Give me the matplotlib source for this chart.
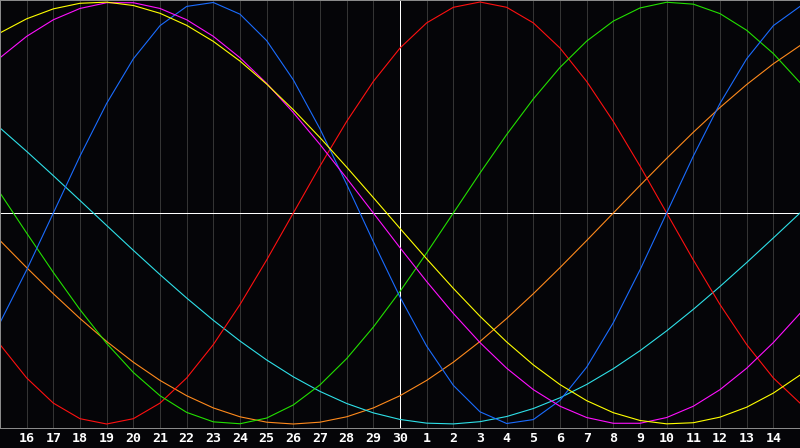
"""biorhythm style chart, one month window centred on day 30"""
import matplotlib
matplotlib.use('Agg')
import matplotlib.pyplot as plt

"""days shown along the bottom (index 0 = left edge, 30 = right edge)"""
day_labels = ['15', '16', '17', '18', '19', '20', '21', '22', '23', '24', '25', '26', '27', '28', '29', '30',
              '1', '2', '3', '4', '5', '6', '7', '8', '9', '10', '11', '12', '13', '14', '15']
day_index = list(range(len(day_labels)))

"""curve values read per day"""
red_vals = [-0.6235, -0.7818, -0.9010, -0.9749, -1.0, -0.9749, -0.9010, -0.7818, -0.6235, -0.4339, -0.2225,
            0.0, 0.2225, 0.4339, 0.6235, 0.7818, 0.9010, 0.9749, 1.0, 0.9749, 0.9010, 0.7818, 0.6235,
            0.4339, 0.2225, 0.0, -0.2225, -0.4339, -0.6235, -0.7818, -0.9010]
green_vals = [0.0951, -0.0951, -0.2817, -0.4582, -0.6182, -0.7557, -0.8660, -0.9450, -0.9898, -0.9989, -0.9718,
              -0.9096, -0.8146, -0.6901, -0.5406, -0.3717, -0.1893, 0.0, 0.1893, 0.3717, 0.5406, 0.6901,
              0.8146, 0.9096, 0.9718, 0.9989, 0.9898, 0.9450, 0.8660, 0.7557, 0.6182]
blue_vals = [-0.5196, -0.2698, 0.0, 0.2698, 0.5196, 0.7308, 0.8879, 0.9791, 0.9977, 0.9423, 0.8170,
             0.6310, 0.3984, 0.1362, -0.1362, -0.3984, -0.6310, -0.8170, -0.9423, -0.9977, -0.9791, -0.8879,
             -0.7308, -0.5196, -0.2698, 0.0, 0.2698, 0.5196, 0.7308, 0.8879, 0.9791]
yellow_vals = [0.8536, 0.9204, 0.9675, 0.9940, 0.9993, 0.9834, 0.9465, 0.8894, 0.8133, 0.7199, 0.6111,
               0.4894, 0.3572, 0.2174, 0.0730, -0.0730, -0.2174, -0.3572, -0.4894, -0.6111, -0.7199, -0.8133,
               -0.8894, -0.9465, -0.9834, -0.9993, -0.9940, -0.9675, -0.9204, -0.8536, -0.7684]
magenta_vals = [0.7357, 0.8372, 0.9158, 0.9694, 0.9966, 0.9966, 0.9694, 0.9158, 0.8372, 0.7357, 0.6142,
                0.4759, 0.3247, 0.1646, 0.0, -0.1646, -0.3247, -0.4759, -0.6142, -0.7357, -0.8372, -0.9158,
                -0.9694, -0.9966, -0.9966, -0.9694, -0.9158, -0.8372, -0.7357, -0.6142, -0.4759]
cyan_vals = [0.4031, 0.2920, 0.1769, 0.0592, -0.0592, -0.1769, -0.2920, -0.4031, -0.5085, -0.6068, -0.6966,
             -0.7765, -0.8456, -0.9028, -0.9473, -0.9785, -0.9960, -0.9996, -0.9890, -0.9646, -0.9267, -0.8757,
             -0.8126, -0.7378, -0.6527, -0.5585, -0.4566, -0.3482, -0.2349, -0.1183, 0.0]
orange_vals = [-0.1305, -0.2588, -0.3827, -0.5, -0.6088, -0.7071, -0.7934, -0.8660, -0.9239, -0.9659, -0.9914,
               -1.0, -0.9914, -0.9659, -0.9239, -0.8660, -0.7934, -0.7071, -0.6088, -0.5, -0.3827, -0.2588,
               -0.1305, 0.0, 0.1305, 0.2588, 0.3827, 0.5, 0.6088, 0.7071, 0.7934]

"""making the chart"""
fig = plt.figure(figsize=(8, 4.48), dpi=100, facecolor='#050508')
ax = fig.add_axes([0, 20 / 448, 1, 428 / 448])
ax.set_facecolor('#050508')

"""day grid lines, centre day in white"""
for i in day_index[1:-1]:
    col = 'white' if i == 15 else '#343434'
    ax.axvline(x=i, color=col, linewidth=0.72, zorder=1)
ax.axhline(y=0, color='white', linewidth=0.72, zorder=1)

"""curves"""
curves = [(orange_vals, '#ff8a1c'), (cyan_vals, '#2ee0e8'), (red_vals, '#ff1010'),
          (green_vals, '#22e000'), (blue_vals, '#1a6cff'), (magenta_vals, '#ff10ff'),
          (yellow_vals, '#ffff00')]
for vals, col in curves:
    ax.plot(day_index, vals, color=col, linewidth=0.8, zorder=2)

ax.set_xlim(0, 30)
ax.set_ylim(-1.019, 1.0095)
ax.set_yticks([])

"""ticks"""
ax.set_xticks(day_index[1:-1], labels=day_labels[1:-1])
ax.tick_params(axis='x', length=0, pad=3, colors='white', labelsize=9.5)
for lab in ax.get_xticklabels():
    lab.set_family('DejaVu Sans Mono')
    lab.set_fontweight('bold')

for sp in ax.spines.values():
    sp.set_color('#8a8a8a')
    sp.set_linewidth(0.72)

fig.savefig('out.png', dpi=100, facecolor=fig.get_facecolor())
